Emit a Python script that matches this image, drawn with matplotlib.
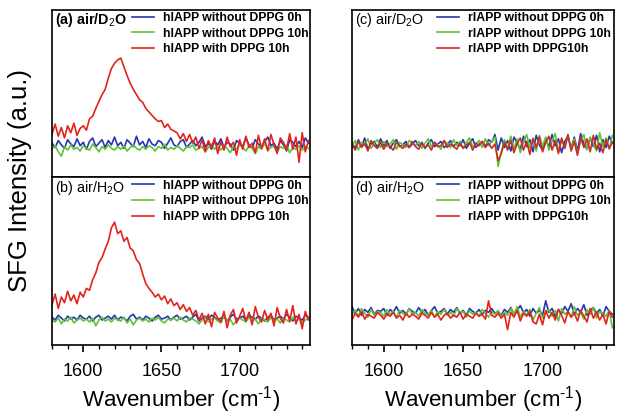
import numpy as np
import matplotlib
matplotlib.use("Agg")
import matplotlib.pyplot as plt
from matplotlib.ticker import MultipleLocator

plt.rcParams['font.family'] = ['Liberation Sans', 'DejaVu Sans']
plt.rcParams['mathtext.fontset'] = 'custom'
plt.rcParams['mathtext.rm'] = 'Liberation Sans'
plt.rcParams['mathtext.bf'] = 'Liberation Sans:bold'

# wavenumber grid (cm-1)
wavenumber = np.arange(1580, 1746, 2)

# (a) hIAPP, air/D2O
a_0h = [2, -3, 5, 0, -4, 6, 1, -2, 7, -1,
        3, -5, 4, 8, -2, 2, 6, -3, 5, 0,
        9, -1, 3, -4, 6, 2, -2, 10, 0, 4,
        -3, 7, 1, -1, 5, 3, -4, 2, 8, 0,
        -2, 4, 6, -3, 1, 5, -1, 3, 9, -2,
        2, -5, 4, 0, 7, -3, 3, 1, -6, 5,
        2, -2, 8, 0, -4, 6, 1, -3, 4, 9,
        -1, 2, -5, 5, 0, -7, 6, 3, -2, 4,
        -3, 8, 2]
a_10h = [-4, -1, -8, -13, -2, -6, 0, -5, -3, -7,
         -1, -4, -6, 1, -3, -8, -2, -5, 0, -4,
         -6, -2, -5, -1, -7, -3, 0, -4, -6, -2,
         -5, -1, -3, -7, -2, -4, 1, -6, -3, -5,
         -1, -4, -7, -2, -3, 0, -6, -4, -2, -8,
         -3, 1, -5, -2, -6, -1, -4, -9, -2, -5,
         0, -3, -7, -1, -4, -10, -2, -5, 2, -6,
         -3, -1, -8, -2, -4, 0, -9, -3, -5, -1,
         -6, -2, -4]
a_dppg = [12, 24, 10, 20, 8, 22, 14, 25, 11, 19,
          22, 17, 30, 33, 42, 50, 58, 64, 77, 88,
          94, 98, 100, 90, 80, 71, 64, 58, 52, 49,
          42, 38, 34, 30, 27, 28, 20, 24, 18, 16,
          14, 7, 13, 4, 12, 2, 9, -4, 6, -8,
          5, -3, 8, -10, 4, -6, 9, -2, 3, -12,
          6, -5, 10, -3, 2, -9, 11, -4, 7, -7,
          12, 0, -10, 8, 3, -6, 13, -5, 9, -20,
          14, -8, 5]

# (b) hIAPP, air/H2O
b_0h = [1, -2, 3, 0, -3, 2, -1, 1, -2, 3,
        0, -1, 2, -3, 1, 3, -2, 0, 2, -1,
        3, -2, 1, 0, -3, 2, 4, -1, 1, -2,
        2, 0, -3, 1, 3, -1, 0, 2, -2, 1,
        3, -1, 0, 2, -2, 1, 4, -3, 0, 2,
        -1, 3, 1, -2, 0, 2, -3, 1, 4, -1,
        0, 2, -2, 3, 1, -1, 2, 0, -3, 1,
        3, -2, 0, 2, -1, 4, 1, -3, 2, 0,
        -2, 3, 1]
b_10h = [-2, -4, 0, -6, -1, -3, 1, -5, -2, 0,
         -3, -1, -4, 0, -8, -2, 1, -3, -1, -4,
         0, -2, -3, 1, -5, -1, -7, -2, 0, -3,
         -1, -4, 0, -2, 1, -3, -5, -1, -2, 0,
         -3, 1, -2, -4, 0, -1, -3, -6, -2, 1,
         -4, -1, 0, -3, -5, 2, -2, -1, -7, -3,
         0, -2, -4, 1, -3, -1, -6, 0, -2, -4,
         1, -3, -1, -5, 0, -2, -4, 1, -3, -1,
         -5, -2, 0]
b_dppg = [14, 25, 10, 22, 16, 28, 18, 24, 15, 27,
          22, 31, 29, 40, 47, 58, 63, 72, 80, 94,
          100, 88, 91, 80, 84, 73, 70, 61, 57, 46,
          36, 31, 27, 22, 25, 19, 23, 15, 20, 13,
          16, 9, 14, 7, 11, 3, 8, -2, 5, -6,
          4, -9, 6, 0, -4, 7, -10, 3, 9, -5,
          2, 10, -3, 6, -7, 12, 1, -4, 8, -2,
          5, -8, 11, 0, -5, 9, -3, 13, -6, 4,
          -11, 7, -2]

# (c) rIAPP, air/D2O
c_0h = [3, -4, 6, -2, 8, -5, 1, 4, -3, 7,
        -1, 5, -4, 2, 6, -2, 0, 4, -3, 1,
        5, -1, 3, -4, 2, 6, -2, 1, 4, -3,
        0, 5, -2, 3, -1, 6, -4, 2, 7, -3,
        1, 4, -2, 6, 3, 12, -6, 8, -3, 5,
        -7, 9, 2, -5, 10, -2, 6, -8, 11, 0,
        -6, 8, -3, 12, -1, 7, -9, 4, 10, -4,
        9, -7, 13, 1, -5, 8, -2, 11, -8, 6,
        -3, 10, 2]
c_10h = [-2, 5, -6, 3, -1, 7, -4, 2, 6, -3,
         4, -2, 1, 6, -5, 3, 0, -3, 5, 2,
         -1, 4, -4, 2, 7, -2, 3, 0, -5, 4,
         2, -3, 6, -1, 4, -4, 3, 8, -2, 1,
         5, -3, 7, -1, 4, 9, -25, -8, 6, -4,
         10, -5, 7, -9, 3, 12, -4, 8, -7, 11,
         -2, 9, -6, 4, 13, -8, 6, -3, 10, -5,
         7, -10, 4, 12, -6, 9, 1, -7, 14, -2,
         8, -5, 11]
c_dppg = [1, -6, 4, -3, 2, -7, 5, -1, -4, 3,
          -5, 2, -2, -6, 3, -1, -4, 1, -3, 4,
          -2, -5, 2, -3, 0, -6, 3, -2, -1, 5,
          -3, 1, -2, -5, 2, -4, 0, 3, -6, 2,
          -1, 4, -3, 2, -4, 1, -18, -10, 3, -6,
          5, -9, 2, 8, -6, 4, -11, 7, -3, 9,
          -8, 3, 10, -6, 5, -10, 8, -4, 12, -7,
          4, -12, 9, -3, 7, -8, 11, -5, 2, -9,
          6, -4, 3]

# (d) rIAPP, air/H2O
d_0h = [12, 5, 10, 3, 9, 6, 11, 4, 8, 7,
        10, 3, 9, 6, 12, 5, 8, 4, 10, 7,
        5, 11, 6, 9, 3, 8, 12, 5, 7, 10,
        4, 9, 6, 11, 5, 8, 3, 10, 7, 5,
        9, 4, 8, 6, 10, 5, 7, 3, 9, 6,
        11, 4, 8, 13, 6, 9, 2, 10, 5, 8,
        3, 18, 6, 10, 2, 9, 5, 12, 7, 15,
        4, 10, 6, 14, 3, 8, 11, 5, 9, 2,
        12, 7, 4]
d_10h = [4, 8, 2, 10, 5, 1, 9, 3, 7, 6,
         2, 9, 4, 7, 1, 8, 5, 3, 10, 4,
         6, 2, 9, 5, 3, 8, 1, 7, 4, 9,
         3, 6, 2, 10, 5, 7, 1, 8, 4, 6,
         2, 9, 5, 1, 7, 4, 8, 2, 6, 3,
         10, 4, 12, 1, 7, 3, 9, -2, 5, 11,
         0, 6, 9, 2, 8, -3, 10, 4, 7, 1,
         12, 3, 6, -1, 9, 4, 11, 0, 7, 5,
         2, 8, -10]
d_dppg = [-2, 5, 1, 7, -1, 4, 2, 0, 6, 3,
          -1, 4, 2, 6, 0, 3, -2, 5, 1, 4,
          2, -1, 5, 3, 0, 6, 1, 4, -2, 3,
          5, 0, 3, 1, 6, -1, 4, 2, 0, 5,
          2, 4, -1, 18, 3, 1, 5, 0, 4, -12,
          6, 1, 8, -3, 5, 2, 7, -4, -6, 4,
          -7, 8, 0, 6, -2, 9, 3, -5, 7, 1,
          5, -3, 8, 2, -4, 10, 0, 6, -2, 4,
          -6, 7, 1]

panel_titles = ["(a) air/D$_2$O", "(b) air/H$_2$O", "(c) air/D$_2$O", "(d) air/H$_2$O"]
h_labels = ["hIAPP without DPPG 0h", "hIAPP without DPPG 10h", "hIAPP with DPPG 10h"]
r_labels = ["rIAPP without DPPG 0h", "rIAPP without DPPG 10h", "rIAPP with DPPG10h"]

blue = '#2437b4'
green = '#62c235'
red = '#e3231c'
dark_red = '#cc2b24'

fig = plt.figure(figsize=(6.24, 4.18), dpi=100)
W, H = 624, 418

def box(x0, y0, x1, y1):
    return [x0 / W, 1 - y1 / H, (x1 - x0) / W, (y1 - y0) / H]

ax_a = fig.add_axes(box(52, 9.5, 310, 177))
ax_b = fig.add_axes(box(52, 177, 310, 345))
ax_c = fig.add_axes(box(352, 9.5, 614, 177))
ax_d = fig.add_axes(box(352, 177, 614, 345))

panels = [
    (ax_a, [a_0h, a_10h, a_dppg], h_labels, (-37, 156), True, red),
    (ax_b, [b_0h, b_10h, b_dppg], h_labels, (-28, 147), False, red),
    (ax_c, [c_0h, c_10h, c_dppg], r_labels, (-37, 156), False, dark_red),
    (ax_d, [d_0h, d_10h, d_dppg], r_labels, (-28, 147), False, red),
]

for (ax, series, labels, ylim, bold, rcol), title in zip(panels, panel_titles):
    for y, col, lab in zip(series, [blue, green, rcol], labels):
        ax.plot(wavenumber, y, color=col, lw=1.2, label=lab)
    ax.set_xlim(1580, 1745)
    ax.set_ylim(*ylim)
    ax.set_yticks([])
    for s in ax.spines.values():
        s.set_linewidth(1.2)
    ax.text(0.012, 0.935, title, transform=ax.transAxes, fontsize=10.3,
            fontweight='bold' if bold else 'normal', va='center', ha='left')
    x_leg = 0.31 if ax in (ax_a, ax_b) else 0.325
    ax.legend(loc='upper left', bbox_to_anchor=(x_leg, 0.985), frameon=False,
              prop={'weight': 'bold', 'size': 8.8}, borderpad=0, borderaxespad=0,
              handlelength=1.8, handletextpad=0.75, labelspacing=0.3)

for ax in (ax_a, ax_c):
    ax.set_xticks([])

for ax in (ax_b, ax_d):
    ax.xaxis.set_major_locator(MultipleLocator(50))
    ax.xaxis.set_minor_locator(MultipleLocator(10))
    ax.tick_params(axis='x', which='major', direction='out', length=5, width=1.2,
                   labelsize=13, pad=8)
    ax.tick_params(axis='x', which='minor', direction='out', length=3, width=1.0)
    ax.set_xlabel("Wavenumber (cm$^{\\text{-}1}$)", fontsize=16, labelpad=3)

fig.text(20 / W, 1 - 180 / H, "SFG Intensity (a.u.)", rotation=90,
         fontsize=18.5, va='center', ha='center')

fig.savefig("out.png", dpi=100)
